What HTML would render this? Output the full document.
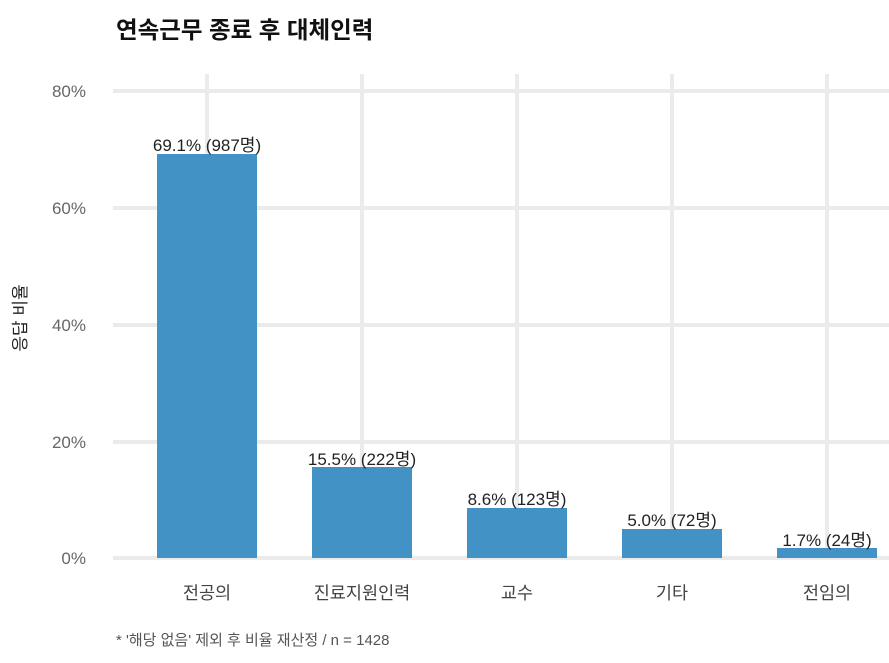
<!DOCTYPE html>
<html><head><meta charset="utf-8"><style>
body{margin:0;background:#fff;width:889px;height:658px;overflow:hidden}
svg{font-family:"Liberation Sans","Noto Sans CJK KR",sans-serif}
</style></head><body>
<svg width="889" height="658" xmlns="http://www.w3.org/2000/svg">
<text x="116" y="38" font-size="23.5" font-weight="bold" fill="#111">연속근무 종료 후 대체인력</text>
<g stroke="#ebebeb" stroke-width="4">
<line x1="113" y1="91" x2="889" y2="91"/>
<line x1="113" y1="208" x2="889" y2="208"/>
<line x1="113" y1="325" x2="889" y2="325"/>
<line x1="113" y1="442" x2="889" y2="442"/>
<line x1="113" y1="558" x2="889" y2="558"/>
<line x1="207" y1="74" x2="207" y2="558"/>
<line x1="362" y1="74" x2="362" y2="558"/>
<line x1="517" y1="74" x2="517" y2="558"/>
<line x1="672" y1="74" x2="672" y2="558"/>
<line x1="827" y1="74" x2="827" y2="558"/>
</g>
<g fill="#666" font-size="17" text-anchor="end">
<text x="86" y="97">80%</text>
<text x="86" y="214">60%</text>
<text x="86" y="331">40%</text>
<text x="86" y="448">20%</text>
<text x="86" y="564">0%</text>
</g>
<text transform="translate(26,318) rotate(-90)" font-size="17" fill="#222" text-anchor="middle">응답 비율</text>
<g fill="#4292c6">
<rect x="157" y="154" width="100" height="404"/>
<rect x="312" y="467" width="100" height="91"/>
<rect x="467" y="508" width="100" height="50"/>
<rect x="622" y="529" width="100" height="29"/>
<rect x="777" y="548" width="100" height="10"/>
</g>
<g fill="#222" font-size="17" text-anchor="middle">
<text x="207" y="151">69.1% (987명)</text>
<text x="362" y="465">15.5% (222명)</text>
<text x="517" y="505">8.6% (123명)</text>
<text x="672" y="526">5.0% (72명)</text>
<text x="827" y="546">1.7% (24명)</text>
</g>
<g fill="#444" font-size="17.5" text-anchor="middle">
<text x="207" y="599">전공의</text>
<text x="362" y="599">진료지원인력</text>
<text x="517" y="599">교수</text>
<text x="672" y="599">기타</text>
<text x="827" y="599">전임의</text>
</g>
<text x="116" y="645" font-size="15" fill="#555">* '해당 없음' 제외 후 비율 재산정 / n = 1428</text>
</svg>
</body></html>
